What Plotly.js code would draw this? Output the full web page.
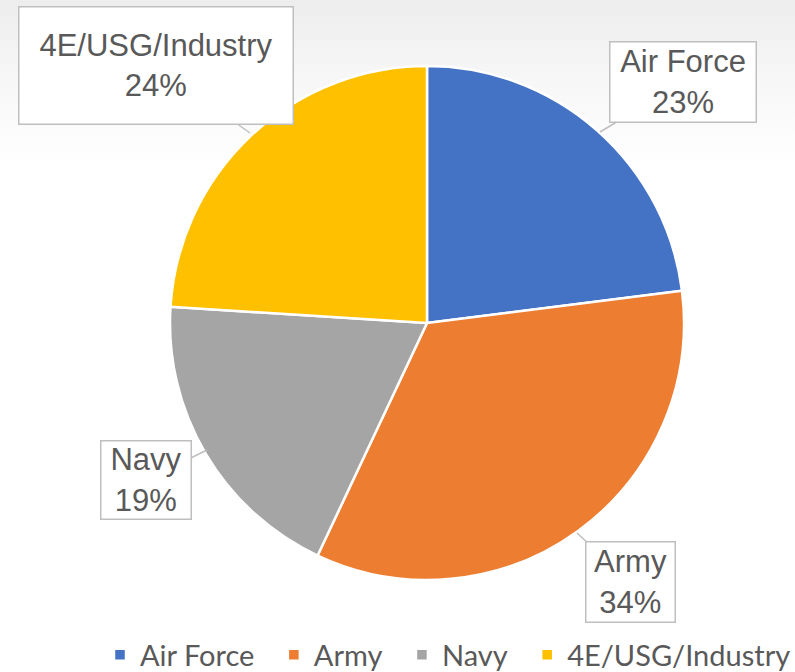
<!DOCTYPE html>
<html>
<head>
<meta charset="utf-8">
<script src="https://cdn.plot.ly/plotly-3.0.1.min.js"></script>
<style>
html,body{margin:0;padding:0;}
body{width:795px;height:672px;background:linear-gradient(to bottom,#ededed 0px,#f7f7f7 80px,#ffffff 170px,#ffffff 672px);}
#chart{width:795px;height:672px;}
</style>
</head>
<body>
<div id="chart"></div>
<script>
const categories = ["Air Force", "Army", "Navy", "4E/USG/Industry"];
const values = [23, 34, 19, 24];
const colors = ["#4472C4", "#ED7D31", "#A5A5A5", "#FFC000"];

const W = 795, H = 672;
// callout placement: [tipX, tipY, boxCenterX, boxCenterY, boxW, boxH] in pixels
const callouts = [
  [600, 132, 683, 82, 143, 77],
  [577, 533, 630, 582, 86, 77],
  [207, 450, 146, 480, 87, 75],
  [250, 133, 156, 66, 271, 114]
];

const total = values.reduce((a, b) => a + b, 0);
const annotations = categories.map((c, i) => {
  const [tx, ty, bx, by, bw, bh] = callouts[i];
  return {
    xref: "paper", yref: "paper",
    x: tx / W, y: 1 - ty / H,
    ax: bx - tx, ay: by - ty,
    axref: "pixel", ayref: "pixel",
    showarrow: true, arrowhead: 0, arrowwidth: 1.5, arrowcolor: "#BFBFBF",
    text: c + "<br>" + Math.round(values[i] / total * 100) + "%",
    font: {family: "'Liberation Sans', Arial, sans-serif", size: 31, color: "#595959"},
    bgcolor: "#FFFFFF", bordercolor: "#BFBFBF", borderwidth: 1.5, borderpad: 1,
    width: bw, height: bh, align: "center", valign: "middle"
  };
});

const cx = 427, cy = 323, r = 257;
const data = [{
  type: "pie",
  labels: categories.map((c, i) => i < categories.length - 1 ? c + "\u2002" : c),
  values: values,
  marker: {colors: colors, line: {color: "#FFFFFF", width: 2.5}},
  sort: false,
  direction: "clockwise",
  rotation: 0,
  textinfo: "none",
  hoverinfo: "label+percent",
  domain: {x: [(cx - r) / W, (cx + r) / W], y: [1 - (cy + r) / H, 1 - (cy - r) / H]}
}];

const layout = {
  width: W, height: H,
  margin: {l: 0, r: 0, t: 0, b: 0, autoexpand: false},
  paper_bgcolor: "rgba(0,0,0,0)",
  plot_bgcolor: "rgba(0,0,0,0)",
  showlegend: true,
  legend: {
    orientation: "h", x: 100 / W, xanchor: "left", y: 1 - 655 / H, yanchor: "middle",
    font: {family: "Lato, sans-serif", size: 29, color: "#595959"},
    itemwidth: 30, tracegroupgap: 0, bgcolor: "rgba(0,0,0,0)"
  },
  annotations: annotations
};

Plotly.newPlot("chart", data, layout, {displayModeBar: false, staticPlot: true});
</script>
</body>
</html>
